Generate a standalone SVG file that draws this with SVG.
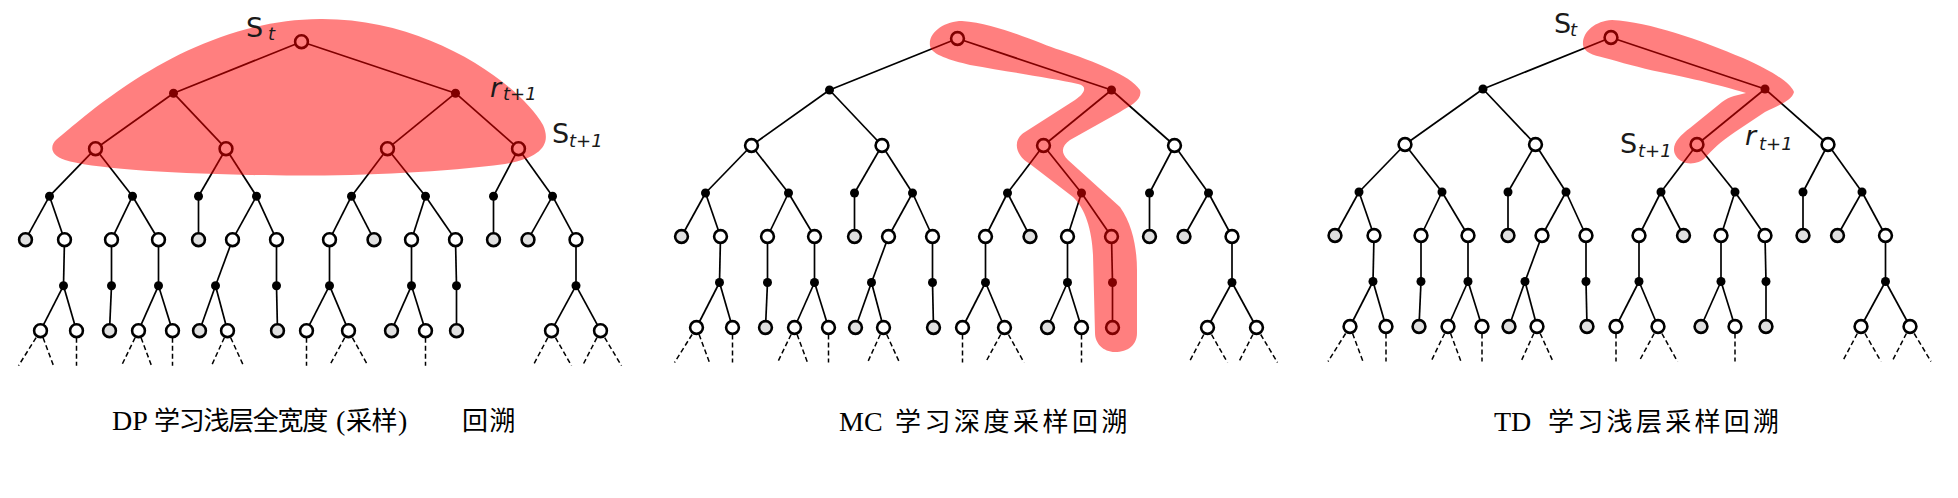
<svg xmlns="http://www.w3.org/2000/svg" xmlns:xlink="http://www.w3.org/1999/xlink" width="1958" height="498" viewBox="0 0 1958 498">
<style>
.e{stroke:#000;stroke-width:1.7;fill:none}
.d{stroke:#000;stroke-width:1.5;stroke-dasharray:5 3;fill:none}
.st{fill:#fff;stroke:#000;stroke-width:2.6}
.gs{fill:#e0e0e0;stroke:#000;stroke-width:2.6}
.ac{fill:#000}
.hl{fill:#ff0000;fill-opacity:0.5;stroke:none}
.lb{font-family:"DejaVu Sans",sans-serif;font-size:27px;fill:#1a1a1a}
.sb{font-size:18px;font-style:italic}
.cap{font-family:"Liberation Serif","Noto Sans CJK SC",serif;font-size:28px;fill:#000}
.cj{font-family:"Noto Sans CJK SC","Liberation Serif",sans-serif;font-size:26px}
</style>
<defs>
<g id="tree-edges">
<line class="e" x1="0" y1="0" x2="-128" y2="51.5"/>
<line class="e" x1="0" y1="0" x2="154" y2="51.5"/>
<line class="e" x1="-128" y1="51.5" x2="-206" y2="107"/>
<line class="e" x1="-128" y1="51.5" x2="-75.5" y2="107"/>
<line class="e" x1="154" y1="51.5" x2="86" y2="107"/>
<line class="e" x1="154" y1="51.5" x2="217" y2="107"/>
<line class="e" x1="-206" y1="107" x2="-252" y2="154.5"/>
<line class="e" x1="-206" y1="107" x2="-169" y2="154.5"/>
<line class="e" x1="-75.5" y1="107" x2="-103" y2="154.5"/>
<line class="e" x1="-75.5" y1="107" x2="-45" y2="154.5"/>
<line class="e" x1="86" y1="107" x2="50" y2="154.5"/>
<line class="e" x1="86" y1="107" x2="124" y2="154.5"/>
<line class="e" x1="217" y1="107" x2="192" y2="154.5"/>
<line class="e" x1="217" y1="107" x2="251" y2="154.5"/>
<line class="e" x1="-252" y1="154.5" x2="-276" y2="198"/>
<line class="e" x1="-252" y1="154.5" x2="-237" y2="198"/>
<line class="e" x1="-169" y1="154.5" x2="-190" y2="198"/>
<line class="e" x1="-169" y1="154.5" x2="-143" y2="198"/>
<line class="e" x1="-103" y1="154.5" x2="-103" y2="198"/>
<line class="e" x1="-45" y1="154.5" x2="-69" y2="198"/>
<line class="e" x1="-45" y1="154.5" x2="-25" y2="198"/>
<line class="e" x1="50" y1="154.5" x2="28" y2="198"/>
<line class="e" x1="50" y1="154.5" x2="72.5" y2="198"/>
<line class="e" x1="124" y1="154.5" x2="110" y2="198"/>
<line class="e" x1="124" y1="154.5" x2="154" y2="198"/>
<line class="e" x1="192" y1="154.5" x2="192" y2="198"/>
<line class="e" x1="251" y1="154.5" x2="226.5" y2="198"/>
<line class="e" x1="251" y1="154.5" x2="274.5" y2="198"/>
<line class="e" x1="-237" y1="198" x2="-238" y2="244"/>
<line class="e" x1="-190" y1="198" x2="-190" y2="244"/>
<line class="e" x1="-143" y1="198" x2="-143" y2="244"/>
<line class="e" x1="-69" y1="198" x2="-86" y2="244"/>
<line class="e" x1="-25" y1="198" x2="-25" y2="244"/>
<line class="e" x1="28" y1="198" x2="28" y2="244"/>
<line class="e" x1="110" y1="198" x2="110" y2="244"/>
<line class="e" x1="154" y1="198" x2="155" y2="244"/>
<line class="e" x1="274.5" y1="198" x2="274.5" y2="244"/>
<line class="e" x1="-238" y1="244" x2="-261" y2="289"/>
<line class="e" x1="-238" y1="244" x2="-225" y2="289"/>
<line class="e" x1="-190" y1="244" x2="-192" y2="289"/>
<line class="e" x1="-143" y1="244" x2="-163" y2="289"/>
<line class="e" x1="-143" y1="244" x2="-129" y2="289"/>
<line class="e" x1="-86" y1="244" x2="-102" y2="289"/>
<line class="e" x1="-86" y1="244" x2="-74" y2="289"/>
<line class="e" x1="-25" y1="244" x2="-24" y2="289"/>
<line class="e" x1="28" y1="244" x2="5" y2="289"/>
<line class="e" x1="28" y1="244" x2="47" y2="289"/>
<line class="e" x1="110" y1="244" x2="90" y2="289"/>
<line class="e" x1="110" y1="244" x2="124" y2="289"/>
<line class="e" x1="155" y1="244" x2="155" y2="289"/>
<line class="e" x1="274.5" y1="244" x2="250" y2="289"/>
<line class="e" x1="274.5" y1="244" x2="299" y2="289"/>
<line class="d" x1="-265.4" y1="296" x2="-283" y2="324"/>
<line class="d" x1="-258.4" y1="296" x2="-248" y2="324"/>
<line class="d" x1="-225" y1="296" x2="-225" y2="324"/>
<line class="d" x1="-166.4" y1="296" x2="-180" y2="324"/>
<line class="d" x1="-160.4" y1="296" x2="-150" y2="324"/>
<line class="d" x1="-129" y1="296" x2="-129" y2="324"/>
<line class="d" x1="-77.2" y1="296" x2="-90" y2="324"/>
<line class="d" x1="-70.8" y1="296" x2="-58" y2="324"/>
<line class="d" x1="5" y1="296" x2="5" y2="324"/>
<line class="d" x1="43.2" y1="296" x2="28" y2="324"/>
<line class="d" x1="50.9" y1="296" x2="66.5" y2="324"/>
<line class="d" x1="124" y1="296" x2="124" y2="324"/>
<line class="d" x1="246.3" y1="296" x2="231.5" y2="324"/>
<line class="d" x1="254" y1="296" x2="270" y2="324"/>
<line class="d" x1="295.4" y1="296" x2="281" y2="324"/>
<line class="d" x1="303.2" y1="296" x2="320" y2="324"/>
</g>
</defs>

<!-- Tree 1 -->
<g id="tree1" transform="translate(301.5,41.7)">
<g id="t1-connectors"><use xlink:href="#tree-edges"/></g>
<g id="t1-s0"><circle class="st" cx="0" cy="0" r="6.4"/></g>
<g id="t1-a1"><circle class="ac" cx="-128" cy="51.5" r="4.5"/></g>
<g id="t1-a2"><circle class="ac" cx="154" cy="51.5" r="4.5"/></g>
<g id="t1-s1"><circle class="st" cx="-206" cy="107" r="6.4"/></g>
<g id="t1-s2"><circle class="st" cx="-75.5" cy="107" r="6.4"/></g>
<g id="t1-s3"><circle class="st" cx="86" cy="107" r="6.4"/></g>
<g id="t1-s4"><circle class="st" cx="217" cy="107" r="6.4"/></g>
<g id="t1-a3"><circle class="ac" cx="-252" cy="154.5" r="4.5"/></g>
<g id="t1-a4"><circle class="ac" cx="-169" cy="154.5" r="4.5"/></g>
<g id="t1-a5"><circle class="ac" cx="-103" cy="154.5" r="4.5"/></g>
<g id="t1-a6"><circle class="ac" cx="-45" cy="154.5" r="4.5"/></g>
<g id="t1-a7"><circle class="ac" cx="50" cy="154.5" r="4.5"/></g>
<g id="t1-a8"><circle class="ac" cx="124" cy="154.5" r="4.5"/></g>
<g id="t1-a9"><circle class="ac" cx="192" cy="154.5" r="4.5"/></g>
<g id="t1-a10"><circle class="ac" cx="251" cy="154.5" r="4.5"/></g>
<g id="t1-s5"><circle class="gs" cx="-276" cy="198" r="6.4"/></g>
<g id="t1-s6"><circle class="st" cx="-237" cy="198" r="6.4"/></g>
<g id="t1-s7"><circle class="st" cx="-190" cy="198" r="6.4"/></g>
<g id="t1-s8"><circle class="st" cx="-143" cy="198" r="6.4"/></g>
<g id="t1-s9"><circle class="gs" cx="-103" cy="198" r="6.4"/></g>
<g id="t1-s10"><circle class="st" cx="-69" cy="198" r="6.4"/></g>
<g id="t1-s11"><circle class="st" cx="-25" cy="198" r="6.4"/></g>
<g id="t1-s12"><circle class="st" cx="28" cy="198" r="6.4"/></g>
<g id="t1-s13"><circle class="gs" cx="72.5" cy="198" r="6.4"/></g>
<g id="t1-s14"><circle class="st" cx="110" cy="198" r="6.4"/></g>
<g id="t1-s15"><circle class="st" cx="154" cy="198" r="6.4"/></g>
<g id="t1-s16"><circle class="gs" cx="192" cy="198" r="6.4"/></g>
<g id="t1-s17"><circle class="gs" cx="226.5" cy="198" r="6.4"/></g>
<g id="t1-s18"><circle class="st" cx="274.5" cy="198" r="6.4"/></g>
<g id="t1-a11"><circle class="ac" cx="-238" cy="244" r="4.5"/></g>
<g id="t1-a12"><circle class="ac" cx="-190" cy="244" r="4.5"/></g>
<g id="t1-a13"><circle class="ac" cx="-143" cy="244" r="4.5"/></g>
<g id="t1-a14"><circle class="ac" cx="-86" cy="244" r="4.5"/></g>
<g id="t1-a15"><circle class="ac" cx="-25" cy="244" r="4.5"/></g>
<g id="t1-a16"><circle class="ac" cx="28" cy="244" r="4.5"/></g>
<g id="t1-a17"><circle class="ac" cx="110" cy="244" r="4.5"/></g>
<g id="t1-a18"><circle class="ac" cx="155" cy="244" r="4.5"/></g>
<g id="t1-a19"><circle class="ac" cx="274.5" cy="244" r="4.5"/></g>
<g id="t1-s19"><circle class="st" cx="-261" cy="289" r="6.4"/></g>
<g id="t1-s20"><circle class="st" cx="-225" cy="289" r="6.4"/></g>
<g id="t1-s21"><circle class="gs" cx="-192" cy="289" r="6.4"/></g>
<g id="t1-s22"><circle class="st" cx="-163" cy="289" r="6.4"/></g>
<g id="t1-s23"><circle class="st" cx="-129" cy="289" r="6.4"/></g>
<g id="t1-s24"><circle class="gs" cx="-102" cy="289" r="6.4"/></g>
<g id="t1-s25"><circle class="st" cx="-74" cy="289" r="6.4"/></g>
<g id="t1-s26"><circle class="gs" cx="-24" cy="289" r="6.4"/></g>
<g id="t1-s27"><circle class="st" cx="5" cy="289" r="6.4"/></g>
<g id="t1-s28"><circle class="st" cx="47" cy="289" r="6.4"/></g>
<g id="t1-s29"><circle class="gs" cx="90" cy="289" r="6.4"/></g>
<g id="t1-s30"><circle class="st" cx="124" cy="289" r="6.4"/></g>
<g id="t1-s31"><circle class="gs" cx="155" cy="289" r="6.4"/></g>
<g id="t1-s32"><circle class="st" cx="250" cy="289" r="6.4"/></g>
<g id="t1-s33"><circle class="st" cx="299" cy="289" r="6.4"/></g>
</g>

<!-- Tree 2 -->
<g id="tree2" transform="translate(957.5,38.5)">
<g id="t2-connectors"><use xlink:href="#tree-edges"/></g>
<g id="t2-s0"><circle class="st" cx="0" cy="0" r="6.4"/></g>
<g id="t2-a1"><circle class="ac" cx="-128" cy="51.5" r="4.5"/></g>
<g id="t2-a2"><circle class="ac" cx="154" cy="51.5" r="4.5"/></g>
<g id="t2-s1"><circle class="st" cx="-206" cy="107" r="6.4"/></g>
<g id="t2-s2"><circle class="st" cx="-75.5" cy="107" r="6.4"/></g>
<g id="t2-s3"><circle class="st" cx="86" cy="107" r="6.4"/></g>
<g id="t2-s4"><circle class="st" cx="217" cy="107" r="6.4"/></g>
<g id="t2-a3"><circle class="ac" cx="-252" cy="154.5" r="4.5"/></g>
<g id="t2-a4"><circle class="ac" cx="-169" cy="154.5" r="4.5"/></g>
<g id="t2-a5"><circle class="ac" cx="-103" cy="154.5" r="4.5"/></g>
<g id="t2-a6"><circle class="ac" cx="-45" cy="154.5" r="4.5"/></g>
<g id="t2-a7"><circle class="ac" cx="50" cy="154.5" r="4.5"/></g>
<g id="t2-a8"><circle class="ac" cx="124" cy="154.5" r="4.5"/></g>
<g id="t2-a9"><circle class="ac" cx="192" cy="154.5" r="4.5"/></g>
<g id="t2-a10"><circle class="ac" cx="251" cy="154.5" r="4.5"/></g>
<g id="t2-s5"><circle class="gs" cx="-276" cy="198" r="6.4"/></g>
<g id="t2-s6"><circle class="st" cx="-237" cy="198" r="6.4"/></g>
<g id="t2-s7"><circle class="st" cx="-190" cy="198" r="6.4"/></g>
<g id="t2-s8"><circle class="st" cx="-143" cy="198" r="6.4"/></g>
<g id="t2-s9"><circle class="gs" cx="-103" cy="198" r="6.4"/></g>
<g id="t2-s10"><circle class="st" cx="-69" cy="198" r="6.4"/></g>
<g id="t2-s11"><circle class="st" cx="-25" cy="198" r="6.4"/></g>
<g id="t2-s12"><circle class="st" cx="28" cy="198" r="6.4"/></g>
<g id="t2-s13"><circle class="gs" cx="72.5" cy="198" r="6.4"/></g>
<g id="t2-s14"><circle class="st" cx="110" cy="198" r="6.4"/></g>
<g id="t2-s15"><circle class="st" cx="154" cy="198" r="6.4"/></g>
<g id="t2-s16"><circle class="gs" cx="192" cy="198" r="6.4"/></g>
<g id="t2-s17"><circle class="gs" cx="226.5" cy="198" r="6.4"/></g>
<g id="t2-s18"><circle class="st" cx="274.5" cy="198" r="6.4"/></g>
<g id="t2-a11"><circle class="ac" cx="-238" cy="244" r="4.5"/></g>
<g id="t2-a12"><circle class="ac" cx="-190" cy="244" r="4.5"/></g>
<g id="t2-a13"><circle class="ac" cx="-143" cy="244" r="4.5"/></g>
<g id="t2-a14"><circle class="ac" cx="-86" cy="244" r="4.5"/></g>
<g id="t2-a15"><circle class="ac" cx="-25" cy="244" r="4.5"/></g>
<g id="t2-a16"><circle class="ac" cx="28" cy="244" r="4.5"/></g>
<g id="t2-a17"><circle class="ac" cx="110" cy="244" r="4.5"/></g>
<g id="t2-a18"><circle class="ac" cx="155" cy="244" r="4.5"/></g>
<g id="t2-a19"><circle class="ac" cx="274.5" cy="244" r="4.5"/></g>
<g id="t2-s19"><circle class="st" cx="-261" cy="289" r="6.4"/></g>
<g id="t2-s20"><circle class="st" cx="-225" cy="289" r="6.4"/></g>
<g id="t2-s21"><circle class="gs" cx="-192" cy="289" r="6.4"/></g>
<g id="t2-s22"><circle class="st" cx="-163" cy="289" r="6.4"/></g>
<g id="t2-s23"><circle class="st" cx="-129" cy="289" r="6.4"/></g>
<g id="t2-s24"><circle class="gs" cx="-102" cy="289" r="6.4"/></g>
<g id="t2-s25"><circle class="st" cx="-74" cy="289" r="6.4"/></g>
<g id="t2-s26"><circle class="gs" cx="-24" cy="289" r="6.4"/></g>
<g id="t2-s27"><circle class="st" cx="5" cy="289" r="6.4"/></g>
<g id="t2-s28"><circle class="st" cx="47" cy="289" r="6.4"/></g>
<g id="t2-s29"><circle class="gs" cx="90" cy="289" r="6.4"/></g>
<g id="t2-s30"><circle class="st" cx="124" cy="289" r="6.4"/></g>
<g id="t2-s31"><circle class="gs" cx="155" cy="289" r="6.4"/></g>
<g id="t2-s32"><circle class="st" cx="250" cy="289" r="6.4"/></g>
<g id="t2-s33"><circle class="st" cx="299" cy="289" r="6.4"/></g>
</g>

<!-- Tree 3 -->
<g id="tree3" transform="translate(1611,37.5)">
<g id="t3-connectors"><use xlink:href="#tree-edges"/></g>
<g id="t3-s0"><circle class="st" cx="0" cy="0" r="6.4"/></g>
<g id="t3-a1"><circle class="ac" cx="-128" cy="51.5" r="4.5"/></g>
<g id="t3-a2"><circle class="ac" cx="154" cy="51.5" r="4.5"/></g>
<g id="t3-s1"><circle class="st" cx="-206" cy="107" r="6.4"/></g>
<g id="t3-s2"><circle class="st" cx="-75.5" cy="107" r="6.4"/></g>
<g id="t3-s3"><circle class="st" cx="86" cy="107" r="6.4"/></g>
<g id="t3-s4"><circle class="st" cx="217" cy="107" r="6.4"/></g>
<g id="t3-a3"><circle class="ac" cx="-252" cy="154.5" r="4.5"/></g>
<g id="t3-a4"><circle class="ac" cx="-169" cy="154.5" r="4.5"/></g>
<g id="t3-a5"><circle class="ac" cx="-103" cy="154.5" r="4.5"/></g>
<g id="t3-a6"><circle class="ac" cx="-45" cy="154.5" r="4.5"/></g>
<g id="t3-a7"><circle class="ac" cx="50" cy="154.5" r="4.5"/></g>
<g id="t3-a8"><circle class="ac" cx="124" cy="154.5" r="4.5"/></g>
<g id="t3-a9"><circle class="ac" cx="192" cy="154.5" r="4.5"/></g>
<g id="t3-a10"><circle class="ac" cx="251" cy="154.5" r="4.5"/></g>
<g id="t3-s5"><circle class="gs" cx="-276" cy="198" r="6.4"/></g>
<g id="t3-s6"><circle class="st" cx="-237" cy="198" r="6.4"/></g>
<g id="t3-s7"><circle class="st" cx="-190" cy="198" r="6.4"/></g>
<g id="t3-s8"><circle class="st" cx="-143" cy="198" r="6.4"/></g>
<g id="t3-s9"><circle class="gs" cx="-103" cy="198" r="6.4"/></g>
<g id="t3-s10"><circle class="st" cx="-69" cy="198" r="6.4"/></g>
<g id="t3-s11"><circle class="st" cx="-25" cy="198" r="6.4"/></g>
<g id="t3-s12"><circle class="st" cx="28" cy="198" r="6.4"/></g>
<g id="t3-s13"><circle class="gs" cx="72.5" cy="198" r="6.4"/></g>
<g id="t3-s14"><circle class="st" cx="110" cy="198" r="6.4"/></g>
<g id="t3-s15"><circle class="st" cx="154" cy="198" r="6.4"/></g>
<g id="t3-s16"><circle class="gs" cx="192" cy="198" r="6.4"/></g>
<g id="t3-s17"><circle class="gs" cx="226.5" cy="198" r="6.4"/></g>
<g id="t3-s18"><circle class="st" cx="274.5" cy="198" r="6.4"/></g>
<g id="t3-a11"><circle class="ac" cx="-238" cy="244" r="4.5"/></g>
<g id="t3-a12"><circle class="ac" cx="-190" cy="244" r="4.5"/></g>
<g id="t3-a13"><circle class="ac" cx="-143" cy="244" r="4.5"/></g>
<g id="t3-a14"><circle class="ac" cx="-86" cy="244" r="4.5"/></g>
<g id="t3-a15"><circle class="ac" cx="-25" cy="244" r="4.5"/></g>
<g id="t3-a16"><circle class="ac" cx="28" cy="244" r="4.5"/></g>
<g id="t3-a17"><circle class="ac" cx="110" cy="244" r="4.5"/></g>
<g id="t3-a18"><circle class="ac" cx="155" cy="244" r="4.5"/></g>
<g id="t3-a19"><circle class="ac" cx="274.5" cy="244" r="4.5"/></g>
<g id="t3-s19"><circle class="st" cx="-261" cy="289" r="6.4"/></g>
<g id="t3-s20"><circle class="st" cx="-225" cy="289" r="6.4"/></g>
<g id="t3-s21"><circle class="gs" cx="-192" cy="289" r="6.4"/></g>
<g id="t3-s22"><circle class="st" cx="-163" cy="289" r="6.4"/></g>
<g id="t3-s23"><circle class="st" cx="-129" cy="289" r="6.4"/></g>
<g id="t3-s24"><circle class="gs" cx="-102" cy="289" r="6.4"/></g>
<g id="t3-s25"><circle class="st" cx="-74" cy="289" r="6.4"/></g>
<g id="t3-s26"><circle class="gs" cx="-24" cy="289" r="6.4"/></g>
<g id="t3-s27"><circle class="st" cx="5" cy="289" r="6.4"/></g>
<g id="t3-s28"><circle class="st" cx="47" cy="289" r="6.4"/></g>
<g id="t3-s29"><circle class="gs" cx="90" cy="289" r="6.4"/></g>
<g id="t3-s30"><circle class="st" cx="124" cy="289" r="6.4"/></g>
<g id="t3-s31"><circle class="gs" cx="155" cy="289" r="6.4"/></g>
<g id="t3-s32"><circle class="st" cx="250" cy="289" r="6.4"/></g>
<g id="t3-s33"><circle class="st" cx="299" cy="289" r="6.4"/></g>
</g>

<!-- highlights (translucent, over the trees) -->
<g id="highlights">
<path id="hl-dp" class="hl" d="M 56,140 C 90,112 190,20 320,19 C 430,18 520,85 543,125 C 552,145 540,158 505,164 C 430,174 330,177 250,175 C 160,173 90,168 65,160 C 50,155 50,146 56,140 Z"/>
<path id="hl-mc" class="hl" d="M 930,46 C 928,32 945,21 962,21 C 1000,24 1040,44 1060,50 C 1095,62 1130,75 1140,90 C 1143,100 1130,106 1120,112 L 1070,140 C 1062,146 1060,152 1068,160 L 1120,207 C 1133,225 1137,250 1137,270 L 1137,333 C 1137,345 1128,352 1115,352 C 1103,352 1095,343 1095,333 L 1093,255 C 1092,230 1085,208 1073,197 L 1030,164 C 1015,155 1012,140 1025,132 L 1075,100 C 1085,93 1088,86 1078,84 C 1050,78 1010,72 970,65 C 950,60 932,55 930,46 Z"/>
<path id="hl-td" class="hl" d="M 1583,45 C 1582,32 1595,21 1612,20 C 1650,22 1700,40 1743,58 C 1770,70 1790,82 1794,92 C 1792,100 1780,105 1765,112 L 1735,132 C 1720,142 1712,150 1705,158 C 1698,165 1682,166 1676,156 C 1670,146 1678,137 1690,128 L 1722,102 C 1730,96 1738,95 1746,93 C 1730,88 1700,80 1660,72 C 1640,68 1620,62 1605,58 C 1592,55 1584,52 1583,45 Z"/>
</g>

<!-- labels -->
<g id="labels">
<text class="lb" x="246" y="36.5">S<tspan class="sb" x="268" y="40">t</tspan></text>
<text class="lb" x="490" y="96.5" font-style="italic">r<tspan class="sb" x="503" y="100">t+1</tspan></text>
<text class="lb" x="552" y="143">S<tspan class="sb" x="569" y="147">t+1</tspan></text>
<text class="lb" x="1554" y="32.5">S<tspan class="sb" x="1570" y="35.5">t</tspan></text>
<text class="lb" x="1620" y="153">S<tspan class="sb" x="1638" y="157">t+1</tspan></text>
<text class="lb" x="1745" y="145" font-style="italic">r<tspan class="sb" x="1759" y="149.5">t+1</tspan></text>
</g>

<g id="captions">
<text class="cap" x="112" y="430">DP<tspan class="cj" x="154" letter-spacing="-1.3">学习浅层全宽度</tspan><tspan x="336">(</tspan><tspan class="cj" x="346" letter-spacing="-0.5">采样</tspan><tspan x="398">)</tspan><tspan class="cj" x="462" letter-spacing="1.5">回溯</tspan></text>
<text class="cap" x="839" y="431">MC<tspan class="cj" x="895" letter-spacing="3.5">学习深度采样回溯</tspan></text>
<text class="cap" x="1494" y="431">TD<tspan class="cj" x="1548" letter-spacing="3.3">学习浅层采样回溯</tspan></text>
</g>
</svg>
